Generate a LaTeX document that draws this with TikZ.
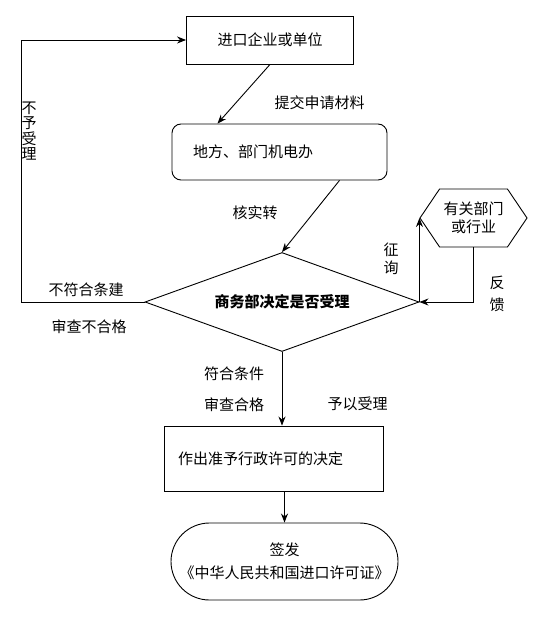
\documentclass[tikz,border=0pt]{standalone}
\usepackage{fontspec}
\setmainfont{Noto Sans CJK SC}
\usetikzlibrary{shapes.geometric,shapes.misc,shapes.symbols,arrows.meta}

\begin{document}
\begin{tikzpicture}[x=1pt, y=-1pt, line width=0.9pt, >={Stealth[length=9pt,width=7pt]},
        font=\fontsize{15}{18}\selectfont,
        caixa/.style={draw, rectangle, align=left}]
        \useasboundingbox (0,0) rectangle (533,617);
        % Caixas do fluxo
        \node[caixa, minimum width=167pt, minimum height=48pt] (empresa) at (270,40) {进口企业或单位};
        \node[caixa, rounded corners=9pt, minimum height=56pt, text width=173pt, inner xsep=21pt] (orgao) at (279.5,152) {地方、部门机电办};
        \node[diamond, draw, aspect=2.77, minimum width=274pt, minimum height=99pt, inner sep=0pt, font=\fontsize{15}{18}\selectfont\bfseries] (decisao) at (282,302) {商务部决定是否受理};
        \node[signal, signal to=west and east, signal pointer angle=112, draw, minimum width=107pt, minimum height=58pt, inner sep=0pt, align=center] (consulta) at (473.5,218) {有关部门\\或行业};
        \node[caixa, minimum height=65pt, text width=191pt, inner xsep=14pt] (acao) at (273.5,458.5) {作出准予行政许可的决定};
        \node[rounded rectangle, draw, minimum width=227pt, minimum height=77pt, inner sep=0pt, align=center] (certificado) at (284.5,561.5) {签发\\[5pt]《中华人民共和国进口许可证》};
        % Setas
        \coordinate (canto) at (21,302);
        \draw[->] (empresa.south) -- ([xshift=-62pt]orgao.north);
        \draw[->] ([xshift=60pt]orgao.south) -- (decisao.north);
        \draw[->] (decisao.west) -- (canto) |- (empresa.west);
        \draw[->] (decisao.east) -- (consulta.west);
        \draw[->] (consulta.south) |- (decisao.east);
        \draw[->] (decisao.south) -- (decisao.south |- acao.north);
        \draw[->] (acao.south -| certificado.north) -- (certificado.north);
        % Rotulos: x/y/{texto}
        \foreach \px/\py/\txt [count=\i] in {319.5/103/提交申请材料, 255/213/核实转, 86/290/不符合条建, 89/327/审查不合格,
                234/374/符合条件, 234/405/审查合格, 357.5/404/予以受理,
                29/131/{不\\[-2.5pt]予\\[-2.5pt]受\\[-2.5pt]理}, 391/259/{征\\询}, 497/294/{反\\[4pt]馈}} {
            \node[align=center] (rotulo\i) at (\px,\py) {\txt};
        }
    \end{tikzpicture}
\end{document}
